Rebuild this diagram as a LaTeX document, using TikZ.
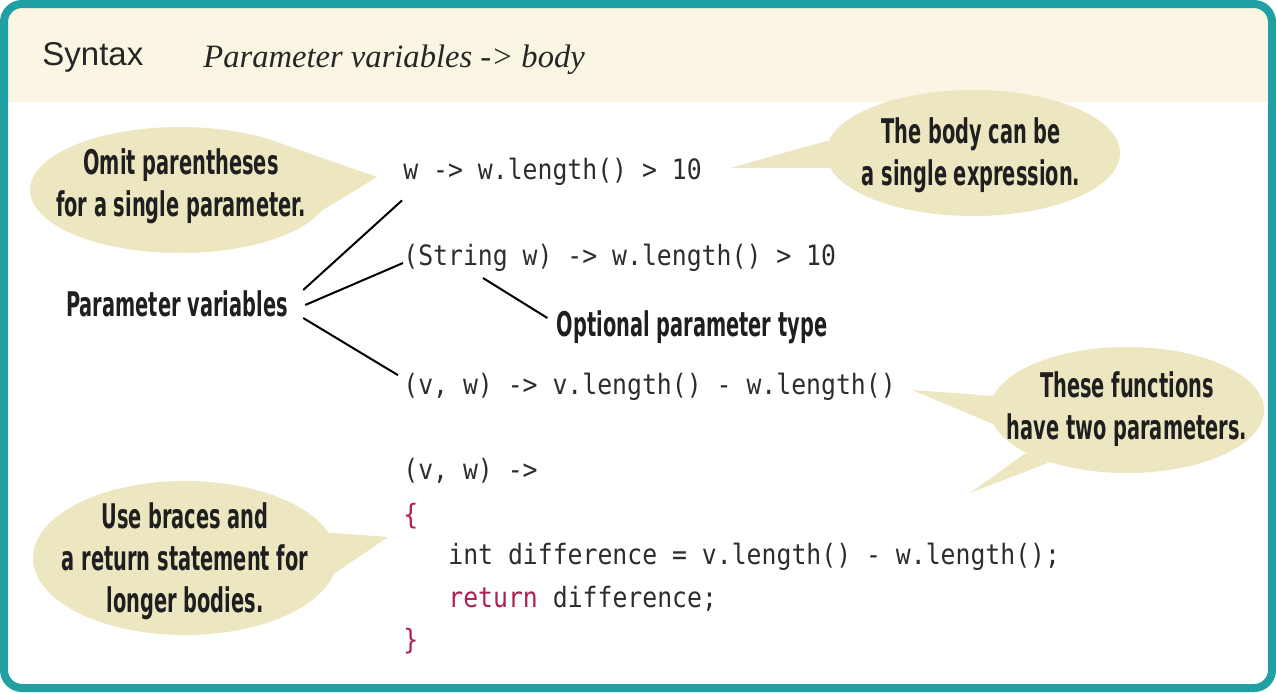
\documentclass[tikz,border=0pt]{standalone}
\usepackage{fontspec}
\newfontfamily\notefont{DejaVu Sans}[FakeStretch=0.57]
\newfontfamily\codefont{DejaVu Sans Mono}[FakeStretch=0.885]
\newfontfamily\syntaxfont{Liberation Sans}
\newfontfamily\formfont{Liberation Serif}
\usetikzlibrary{shapes.geometric,calc,backgrounds}
\definecolor{frameteal}{RGB}{32,160,162}
\definecolor{bandcream}{RGB}{250,246,227}
\definecolor{bubble}{RGB}{236,230,193}
\definecolor{codegray}{RGB}{45,45,45}
\definecolor{keyred}{RGB}{172,32,78}
\tikzset{
  callout/.style={ellipse,fill=bubble,inner sep=0pt},
  note/.style={font=\notefont\bfseries\fontsize{17}{21}\selectfont,align=center,inner sep=0pt,text=black!88},
  code/.style={font=\codefont\fontsize{14}{16}\selectfont,text=codegray,inner sep=0pt,anchor=base west},
}
\begin{document}
\begin{tikzpicture}[x=0.5pt,y=-0.5pt]
  \useasboundingbox (0,0) rectangle (1276,692);
  % header band and frame
  \begin{scope}
    \clip[rounded corners=11pt] (0,0) rectangle (1276,692);
    \fill[bandcream] (0,0) rectangle (1276,102);
  \end{scope}
  \draw[frameteal,line width=4pt,rounded corners=9pt] (4,4) rectangle (1272,688);
  \node[font=\syntaxfont\fontsize{16.5}{20}\selectfont,text=black!85,anchor=base west,inner sep=0pt] (syntax) at (42,65) {Syntax};
  \node[font=\formfont\itshape\fontsize{16.3}{20}\selectfont,text=black!85,anchor=base west,inner sep=0pt] (form) at (203,67) {Parameter variables -> body};
  % code lines
  \node[code] (c1) at (403,179) {w -> w.length() > 10};
  \node[code] (c2) at (403,265) {(String w) -> w.length() > 10};
  \node[code] (c3) at (403,394) {(v, w) -> v.length() - w.length()};
  \node[code] (c4) at (403,479) {(v, w) ->};
  \node[code,text=keyred] (c5) at (403,524) {\{};
  \node[code] (c6) at (448,564) {int difference = v.length() - w.length();};
  \node[code] (c7) at (448,607) {\textcolor{keyred}{return} difference;};
  \node[code,text=keyred] (c8) at (403,649) {\}};
  % callouts
  \node[callout,minimum width=150pt,minimum height=63pt] (omit) at (180,190) {};
  \node[note] (omittext) at (181,186) {Omit parentheses\\for a single parameter.};
  \node[callout,minimum width=147pt,minimum height=63pt] (body) at (973,153) {};
  \node[note] (bodytext) at (971,155) {The body can be\\a single expression.};
  \node[callout,minimum width=137pt,minimum height=63pt] (two) at (1127,410) {};
  \node[note] (twotext) at (1127,409) {These functions\\have two parameters.};
  \node[callout,minimum width=152pt,minimum height=77pt] (braces) at (185,558) {};
  \node[note] (bracestext) at (185,561) {Use braces and\\a return statement for\\longer bodies.};
  \coordinate (twotip) at (970,493);
  \begin{scope}[on background layer]
    \fill[bubble] (omit.22) -- ($(c1.base west)+(-26,-2)$) -- (omit.-8) -- cycle;
    \fill[bubble] (body.175) -- ($(c1.base east)+(28,-11)$) -- (body.186) -- cycle;
    \fill[bubble] (two.174) -- ($(c3.base east)+(16,-4)$) -- (two.186) -- cycle;
    \fill[bubble] (two.203) -- (twotip) -- (two.214) -- cycle;
    \fill[bubble] (braces.10) -- ($(c5.base west)+(-15,13)$) -- (braces.-6) -- cycle;
  \end{scope}
  % labels with leader lines
  \node[note] (pv) at (177,304) {Parameter variables};
  \node[note] (opt) at (692,327) {Optional parameter type};
  \draw[line width=1pt] ($(pv.east)+(15,-14)$) -- ($(c1.south west)+(-1,15)$);
  \draw[line width=1pt] ($(pv.east)+(17,1)$) -- ($(c2.base west)+(0,-2)$);
  \draw[line width=1pt] ($(pv.east)+(15,14)$) -- ($(c3.north west)+(-5,3)$);
  \draw[line width=1pt] ($(c2.base west)+(80,13)$) -- ($(opt.west)+(-9,-9)$);
\end{tikzpicture}
\end{document}
